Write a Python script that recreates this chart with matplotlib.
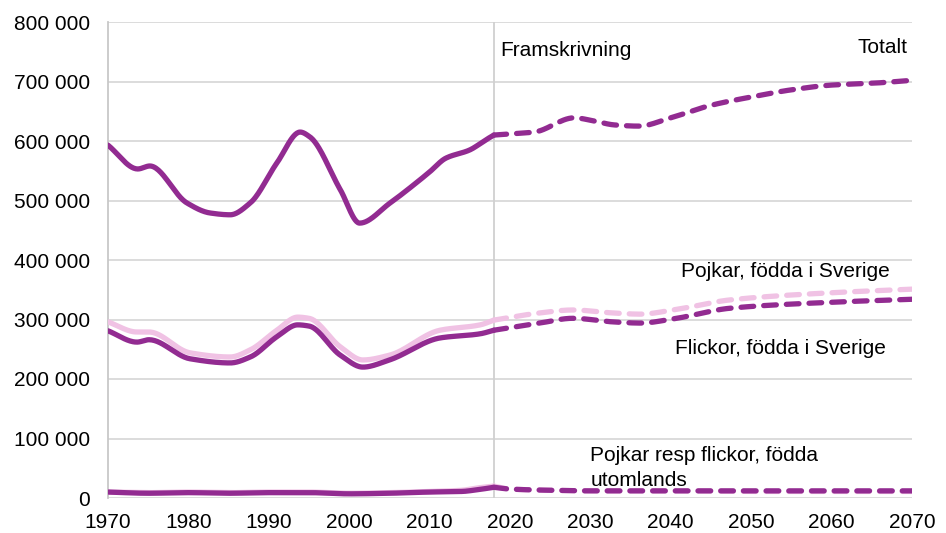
import numpy as np
import matplotlib.pyplot as plt
from matplotlib.ticker import FuncFormatter

plt.rcParams['font.family'] = ['Liberation Sans', 'DejaVu Sans']

# Totalt, historical and projection
tot_years = [1970, 1973.7, 1975.2, 1979.8, 1982.7, 1985.2, 1987.7, 1991, 1993.9, 1995.1,
             1998.9, 2001.3, 2005.1, 2008, 2010, 2012, 2015, 2017, 2018]
tot_vals = [593000, 553000, 558000, 496000, 479000, 476000, 496000, 563000, 615000, 607000,
            518000, 462000, 496000, 526000, 548000, 571000, 585000, 602000, 610000]
tot_proj_years = [2018, 2020, 2023, 2028, 2030, 2033, 2036, 2040, 2045, 2050, 2055, 2060, 2065, 2070]
tot_proj_vals = [610000, 612000, 615000, 639000, 635000, 627000, 625000, 639000, 660000, 674000,
                 686000, 694000, 697000, 702000]

# Born in Sweden
sv_years = [1970, 1973.6, 1975.1, 1980.2, 1985.2, 1987.7, 1991, 1993.6, 1995, 1998.9,
            2001.7, 2005, 2011.3, 2016.3, 2018]
boys_sv = [296000, 279000, 279000, 244000, 237000, 249000, 282000, 304000, 302000, 254000,
           232000, 240000, 282000, 291000, 299000]
girls_sv = [281000, 262000, 266000, 234000, 227000, 237000, 271000, 291000, 289000, 240000,
            220000, 232000, 269000, 276000, 282000]
sv_proj_years = [2018, 2023.7, 2027.8, 2032.8, 2036.2, 2040.3, 2047.4, 2060, 2070]
boys_sv_proj = [299000, 311000, 316000, 311000, 309000, 316000, 333000, 345000, 351000]
girls_sv_proj = [282000, 294000, 302000, 296000, 294000, 301000, 319000, 329000, 334000]

# Born abroad
ut_years = [1970, 1975, 1980, 1985, 1990, 1995, 2000, 2005, 2010, 2014, 2016, 2018]
boys_ut = [10000, 9000, 10000, 9000, 10000, 10000, 8000, 9000, 11000, 13000, 17000, 20000]
girls_ut = [10000, 8000, 9000, 8000, 9000, 9000, 7000, 8000, 10000, 11000, 14000, 18000]
ut_proj_years = [2018, 2020, 2025, 2030, 2040, 2050, 2060, 2070]
boys_ut_proj = [20000, 15000, 13000, 12000, 12000, 11000, 11000, 11000]
girls_ut_proj = [18000, 15000, 13000, 12000, 12000, 12000, 12000, 12000]

dark = '#922B91'
pink = '#F0C2E4'
lw = 3.8

fig = plt.figure(figsize=(9.46, 5.33), dpi=100)
ax = fig.add_axes([108 / 946, 1 - 498 / 533, (912 - 108) / 946, 476 / 533])


def smooth(x, y, n=30):
    # piecewise cubic hermite (pchip style slopes) through the read points
    x = np.asarray(x, float)
    y = np.asarray(y, float)
    h = np.diff(x)
    d = np.diff(y) / h
    m = np.zeros_like(y)
    for i in range(1, len(x) - 1):
        if d[i - 1] * d[i] > 0:
            w1 = 2 * h[i] + h[i - 1]
            w2 = h[i] + 2 * h[i - 1]
            m[i] = (w1 + w2) / (w1 / d[i - 1] + w2 / d[i])
    m[0] = d[0]
    m[-1] = d[-1]
    xs, ys = [], []
    t = np.linspace(0, 1, n, endpoint=False)
    for i in range(len(x) - 1):
        h00 = 2 * t ** 3 - 3 * t ** 2 + 1
        h10 = t ** 3 - 2 * t ** 2 + t
        h01 = -2 * t ** 3 + 3 * t ** 2
        h11 = t ** 3 - t ** 2
        xs.extend(x[i] + t * h[i])
        ys.extend(h00 * y[i] + h10 * h[i] * m[i] + h01 * y[i + 1] + h11 * h[i] * m[i + 1])
    xs.append(x[-1])
    ys.append(y[-1])
    return xs, ys


def draw(x, y, color, dashed=False, z=3):
    xs, ys = smooth(x, y)
    if dashed:
        ax.plot(xs, ys, color=color, lw=lw, dashes=(2.4, 1.9), dash_capstyle='round', zorder=z)
    else:
        ax.plot(xs, ys, color=color, lw=lw, solid_capstyle='round', zorder=z)


draw(ut_years, boys_ut, pink)
draw(ut_proj_years, boys_ut_proj, pink, True)
draw(ut_years, girls_ut, dark, z=4)
draw(ut_proj_years, girls_ut_proj, dark, True, z=4)
draw(sv_years, boys_sv, pink)
draw(sv_proj_years, boys_sv_proj, pink, True)
draw(sv_years, girls_sv, dark, z=4)
draw(sv_proj_years, girls_sv_proj, dark, True, z=4)
draw(tot_years, tot_vals, dark)
draw(tot_proj_years, tot_proj_vals, dark, True)

ax.axvline(2018, color='#D0D0D0', lw=1.3, zorder=1)

ax.set_xlim(1970, 2070)
ax.set_ylim(0, 800000)
ax.set_xticks(range(1970, 2071, 10))
ax.set_yticks(range(0, 800001, 100000))
ax.yaxis.set_major_formatter(FuncFormatter(lambda v, p: f'{int(v):,}'.replace(',', ' ')))
ax.grid(axis='y', color='#D9D9D9', lw=1.3, zorder=0)
ax.set_axisbelow(True)
for s in ['top', 'right', 'bottom']:
    ax.spines[s].set_visible(False)
ax.spines['left'].set_color('#C8C8C8')
ax.spines['left'].set_linewidth(1.3)
ax.tick_params(length=0, labelsize=15, colors='black')
ax.tick_params(axis='y', pad=13)
ax.tick_params(axis='x', pad=11)

fs = 15
ax.text(2018.8, 752000, 'Framskrivning', fontsize=fs, va='center', ha='left')
ax.text(2069.4, 757000, 'Totalt', fontsize=fs, va='center', ha='right')
ax.text(2067.2, 380000, 'Pojkar, födda i Sverige', fontsize=fs, va='center', ha='right')
ax.text(2040.5, 252000, 'Flickor, födda i Sverige', fontsize=fs, va='center', ha='left')
ax.text(2030.0, 72000, 'Pojkar resp flickor, födda', fontsize=fs, va='center', ha='left')
ax.text(2030.0, 30000, 'utomlands', fontsize=fs, va='center', ha='left')

fig.savefig('out.png', dpi=100)
